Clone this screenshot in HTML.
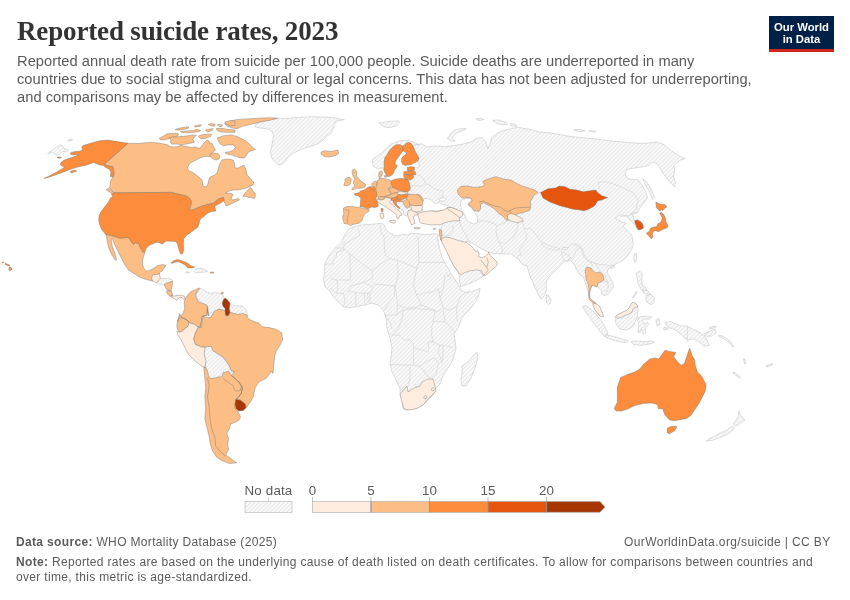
<!DOCTYPE html>
<html><head><meta charset="utf-8"><style>
*{margin:0;padding:0;box-sizing:border-box}
body{width:850px;height:600px;background:#fff;overflow:hidden;position:relative;font-family:"Liberation Sans",sans-serif;color:#5b5b5b}
.t{position:absolute;white-space:nowrap;will-change:transform}
#title{left:17px;top:16.2px;font-family:"Liberation Serif",serif;font-weight:bold;font-size:27px;line-height:30px;color:#333;letter-spacing:-0.15px}
#sub{left:16.5px;top:52.5px;font-size:14.7px;line-height:17.85px;color:#5b5b5b;letter-spacing:0.03px}
#logo{position:absolute;will-change:transform;left:769px;top:16px;width:65px;height:36px;background:#002147;border-bottom:3px solid #ce261e;color:#fff;font-weight:bold;font-size:11.3px;line-height:12px;text-align:center;padding-top:5px}
svg.map{position:absolute;left:0;top:0;will-change:transform}
.lg{position:absolute;font-size:12px;color:#5b5b5b}
#src{left:16.3px;top:534px;font-size:12px;line-height:16px;letter-spacing:0.34px}
#url{right:19px;top:534px;font-size:12px;line-height:16px;letter-spacing:0.38px}
#note{left:16.3px;top:554.5px;font-size:12px;line-height:15.3px;letter-spacing:0.32px}
b{font-weight:bold}
</style></head><body>
<div class="t" id="title">Reported suicide rates, 2023</div>
<div class="t" id="sub">Reported annual death rate from suicide per 100,000 people. Suicide deaths are underreported in many<br>countries due to social stigma and cultural or legal concerns. This data has not been adjusted for underreporting,<br>and comparisons may be affected by differences in measurement.</div>
<div id="logo">Our World<br>in Data</div>
<svg class="map" width="850" height="600" viewBox="0 0 850 600">
<defs><pattern id="hp" patternUnits="userSpaceOnUse" width="2.95" height="2.95" patternTransform="rotate(-45)"><rect x="-1" y="-1" width="5" height="5" fill="#fff"/><path d="M-1,1.475 H4" stroke="#e8e8e8" stroke-width="1.5"/></pattern></defs>
<path d="M255.0,124.3 L259.5,122.6 L266.2,120.4 L277.4,118.7 L288.5,118.1 L299.7,117.4 L310.9,116.7 L322.1,117.0 L333.2,117.6 L344.4,119.8 L336.6,120.9 L334.4,124.3 L333.2,128.8 L331.0,133.2 L326.5,136.6 L323.2,139.9 L318.7,143.3 L313.1,145.5 L305.3,147.8 L298.6,150.6 L293.0,153.4 L288.5,156.7 L285.2,161.2 L281.8,164.5 L277.4,164.5 L274.0,161.2 L271.2,156.7 L270.6,151.1 L271.8,145.5 L272.9,139.9 L273.4,134.4 L271.8,131.0 L267.3,128.8 L261.7,128.2 L257.2,127.6 L255.0,126.5Z" fill="url(#hp)" stroke="#bdbdbd" stroke-width="0.5"/>
<path d="M378.8,123.2 L387.6,121.5 L398.2,120.9 L400.0,122.3 L396.5,125.9 L389.4,127.7 L384.1,126.8Z" fill="url(#hp)" stroke="#bdbdbd" stroke-width="0.5"/>
<path d="M349.8,228.2 L358.2,225.4 L366.7,224.6 L375.2,223.9 L382.2,223.2 L384.4,225.4 L385.8,229.6 L389.3,232.4 L393.5,235.2 L397.8,235.9 L403.4,234.5 L409.1,235.2 L410.5,233.1 L417.5,233.8 L426.0,234.5 L434.5,233.8 L438.7,234.5 L437.5,238.0 L438.5,243.0 L440.0,250.0 L442.5,258.3 L445.0,263.3 L448.3,268.3 L450.8,273.3 L454.2,278.3 L457.5,283.3 L460.0,286.7 L460.0,289.2 L463.3,291.7 L467.5,292.5 L471.7,291.7 L475.8,290.0 L480.0,288.3 L479.2,293.3 L476.7,300.0 L473.3,305.0 L469.2,310.0 L465.0,314.2 L461.7,318.3 L460.5,322.0 L458.0,328.0 L454.0,334.0 L455.0,340.0 L456.0,348.0 L454.0,356.0 L452.0,362.0 L448.0,368.0 L444.0,374.0 L442.0,378.0 L440.0,384.0 L436.0,388.0 L434.0,394.0 L428.0,400.0 L422.0,406.0 L414.0,409.0 L406.0,410.0 L403.0,408.0 L402.0,400.0 L400.0,394.0 L400.0,388.0 L396.0,380.0 L392.0,372.0 L390.0,364.0 L391.0,356.0 L392.0,348.0 L390.0,338.0 L388.0,332.0 L386.7,326.7 L386.7,320.0 L385.0,315.0 L383.3,310.0 L378.3,305.0 L371.7,303.3 L365.0,305.0 L356.7,306.7 L350.0,307.5 L343.3,306.7 L338.3,301.7 L333.3,296.7 L330.0,291.7 L325.0,286.7 L324.2,283.3 L323.3,278.3 L325.0,273.3 L324.2,268.3 L325.0,263.3 L328.3,256.7 L331.7,251.7 L336.7,246.7 L341.7,241.7 L345.5,233.1Z" fill="url(#hp)" stroke="#bdbdbd" stroke-width="0.5"/>
<path d="M396.0,201.0 L404.0,200.5 L407.0,203.0 L408.0,208.0 L407.0,213.0 L405.5,215.5 L404.0,214.5 L403.8,211.8 L402.6,210.0 L400.5,208.7 L397.2,205.3 L395.5,202.3Z" fill="url(#hp)" stroke="#bdbdbd" stroke-width="0.5"/>
<path d="M462.0,366.0 L468.0,362.0 L473.0,356.0 L477.0,352.4 L478.0,358.0 L475.0,368.0 L471.0,378.0 L466.0,386.0 L462.0,386.0 L461.0,380.0 L462.0,372.0Z" fill="url(#hp)" stroke="#bdbdbd" stroke-width="0.5"/>
<path d="M420.7,143.5 L427.5,146.8 L436.9,145.9 L444.5,146.8 L453.9,145.5 L463.3,144.0 L470.8,142.1 L476.5,138.4 L482.1,137.4 L485.9,142.1 L487.8,148.7 L490.6,142.1 L491.5,137.4 L497.2,133.6 L502.8,130.8 L510.4,128.9 L517.9,127.1 L521.6,128.0 L532.9,129.9 L538.6,131.8 L548.0,132.7 L559.3,134.6 L570.6,136.5 L593.5,138.8 L617.1,141.6 L626.5,142.4 L640.6,143.5 L647.6,143.1 L657.1,141.9 L664.1,144.7 L671.2,150.6 L678.2,155.3 L685.3,158.8 L680.6,160.0 L677.1,162.4 L673.5,165.9 L674.7,170.6 L673.5,176.5 L675.4,182.4 L674.7,187.1 L671.2,183.5 L666.5,177.6 L662.9,172.9 L659.4,167.1 L657.1,163.5 L652.4,162.4 L647.6,165.9 L640.6,167.1 L633.5,168.2 L626.5,169.4 L625.3,174.1 L627.6,178.8 L638.2,180.0 L641.8,184.7 L645.3,190.6 L647.6,197.6 L644.1,202.4 L640.6,207.1 L637.1,212.9 L630.0,213.3 L633.3,215.8 L634.2,220.8 L638.3,219.7 L641.7,222.5 L643.3,226.7 L641.7,229.2 L638.3,230.0 L635.8,226.7 L631.7,221.7 L629.2,219.2 L626.7,215.8 L620.0,215.0 L615.0,218.3 L620.0,220.8 L625.8,223.3 L623.3,226.7 L626.7,230.0 L631.7,235.0 L633.3,243.3 L631.7,250.0 L626.7,256.7 L622.9,260.6 L615.9,264.1 L612.4,266.8 L607.9,269.4 L607.1,272.9 L610.6,278.2 L613.2,283.5 L613.2,287.9 L609.7,292.4 L605.3,295.9 L601.8,294.1 L600.9,289.7 L599.1,287.9 L596.0,285.0 L592.0,286.0 L589.0,292.0 L588.8,295.4 L587.2,288.0 L584.7,281.4 L583.1,276.5 L579.8,274.8 L576.5,269.9 L574.8,264.9 L571.5,261.6 L570.0,260.0 L566.0,261.0 L563.0,263.0 L559.0,267.0 L554.0,272.0 L550.0,276.0 L547.0,280.0 L546.0,284.0 L546.5,290.0 L545.0,294.5 L543.0,297.0 L541.0,299.3 L538.0,294.0 L535.0,287.5 L532.0,280.0 L531.0,279.0 L529.0,273.0 L528.0,269.0 L527.0,265.5 L523.0,265.0 L520.0,261.5 L519.0,259.0 L515.0,257.0 L512.0,254.0 L506.0,254.0 L500.0,254.0 L498.3,253.7 L493.3,253.3 L490.0,252.5 L485.5,250.8 L481.0,248.5 L476.0,245.3 L471.0,242.3 L468.0,241.5 L466.7,241.0 L465.0,250.0 L478.0,268.0 L483.3,275.8 L480.8,277.5 L475.8,280.8 L470.8,283.3 L465.0,285.0 L460.8,286.7 L459.5,282.0 L459.6,278.0 L458.0,272.0 L454.0,266.0 L449.0,256.0 L445.0,247.0 L442.0,241.0 L441.0,238.0 L440.3,233.0 L440.8,229.0 L441.7,226.0 L442.5,225.0 L443.3,223.3 L436.7,218.3 L424.0,213.0 L422.5,199.5 L418.0,196.0 L412.0,196.0 L407.5,194.8 L408.0,192.0 L409.5,185.0 L410.0,179.0 L413.0,177.0 L413.0,167.5 L416.0,167.3 L418.0,167.0 L419.5,166.2 L419.0,164.0 L417.5,161.3 L419.0,159.0 L417.5,155.3 L416.0,153.0 L414.5,150.0 L413.0,146.3 L414.5,144.8 L417.5,144.8 L419.0,144.8Z" fill="url(#hp)" stroke="#bdbdbd" stroke-width="0.5"/>
<path d="M372.5,162.0 L372.1,159.8 L374.8,157.5 L378.5,155.3 L382.3,152.3 L385.3,149.3 L388.3,146.3 L391.3,144.0 L395.0,142.5 L399.5,141.0 L404.0,140.3 L408.5,140.3 L413.0,141.8 L416.0,143.3 L419.0,144.8 L417.5,144.8 L414.5,144.8 L413.0,146.3 L410.8,143.3 L408.5,142.5 L406.3,143.3 L404.0,145.5 L402.5,146.3 L400.3,144.8 L396.5,144.8 L392.8,147.0 L389.8,150.0 L386.8,155.3 L384.9,157.5 L384.1,163.5 L384.5,166.5 L382.3,168.0 L377.0,168.4 L373.3,166.5Z" fill="url(#hp)" stroke="#bdbdbd" stroke-width="0.5"/>
<path d="M738.7,411.0 L740.8,415.3 L743.0,418.6 L745.2,419.7 L740.8,422.9 L735.4,426.2 L733.2,424.0 L736.5,419.7 L738.7,415.3Z" fill="url(#hp)" stroke="#bdbdbd" stroke-width="0.5"/>
<path d="M732.2,426.2 L725.7,430.5 L717.0,434.8 L708.3,439.2 L706.2,441.3 L712.7,440.2 L721.3,437.0 L730.0,432.7 L734.3,428.3Z" fill="url(#hp)" stroke="#bdbdbd" stroke-width="0.5"/>
<path d="M634.2,254.2 L636.3,253.3 L636.7,260.0 L635.0,262.5 L633.7,258.3Z" fill="url(#hp)" stroke="#bdbdbd" stroke-width="0.5"/>
<path d="M642.9,178.8 L646.5,181.6 L651.2,189.4 L654.7,197.6 L652.8,199.5 L648.8,190.6 L644.8,183.5Z" fill="url(#hp)" stroke="#bdbdbd" stroke-width="0.5"/>
<path d="M198.9,288.0 L202.5,289.1 L206.7,291.9 L210.9,293.3 L215.9,292.6 L219.4,293.3 L222.2,294.7 L224.3,298.2 L226.5,298.9 L230.6,304.7 L235.9,305.6 L242.9,306.5 L246.5,310.0 L247.3,315.3 L237.7,314.4 L230.6,312.6 L225.3,310.9 L219.1,309.1 L214.7,310.9 L211.2,317.1 L208.5,317.9 L207.7,315.3 L207.7,308.2 L206.8,305.6 L202.3,302.9 L197.1,299.4 L196.2,294.1 L197.9,290.6Z" fill="url(#hp)" stroke="#bdbdbd" stroke-width="0.5"/>
<path d="M205.0,347.1 L211.2,346.2 L212.9,350.6 L218.2,354.1 L223.5,357.6 L226.2,361.2 L229.7,366.5 L230.6,370.0 L234.1,371.8 L230.6,373.5 L223.5,373.5 L220.0,376.2 L214.7,378.8 L207.7,377.9 L205.9,372.6 L205.0,367.4 L205.9,361.2 L204.1,354.1Z" fill="url(#hp)" stroke="#bdbdbd" stroke-width="0.5"/>
<path d="M582.4,306.5 L585.9,305.6 L592.9,310.9 L598.2,317.1 L603.5,324.1 L607.1,331.2 L607.9,336.5 L604.4,336.5 L600.0,331.2 L594.7,324.1 L589.4,317.1 L585.0,310.9Z" fill="url(#hp)" stroke="#bdbdbd" stroke-width="0.5"/>
<path d="M637.9,317.9 L640.6,316.7 L647.6,316.2 L652.1,317.1 L650.3,318.8 L644.1,319.2 L642.4,320.6 L644.1,324.1 L647.6,322.4 L648.5,324.1 L645.0,327.6 L645.9,332.9 L643.2,333.8 L641.5,329.4 L639.7,332.9 L637.9,332.1 L638.8,325.9 L637.9,320.6Z" fill="url(#hp)" stroke="#bdbdbd" stroke-width="0.5"/>
<path d="M605.3,334.7 L614.1,336.5 L622.9,339.1 L628.2,340.9 L626.5,342.6 L619.4,341.8 L612.4,340.0 L606.2,337.4Z" fill="url(#hp)" stroke="#bdbdbd" stroke-width="0.5"/>
<path d="M630.9,341.8 L637.1,340.9 L644.1,341.8 L652.9,340.9 L654.7,342.6 L647.6,344.4 L640.6,345.3 L633.5,344.4Z" fill="url(#hp)" stroke="#bdbdbd" stroke-width="0.5"/>
<path d="M665.3,322.4 L670.6,321.5 L675.9,324.1 L681.2,325.9 L686.5,325.9 L693.5,329.4 L700.6,332.9 L705.9,338.2 L709.4,345.3 L704.1,346.2 L698.8,341.8 L693.5,339.1 L688.2,340.0 L684.7,338.2 L679.4,332.9 L674.1,329.4 L668.8,327.6 L666.2,325.0Z" fill="url(#hp)" stroke="#bdbdbd" stroke-width="0.5"/>
<path d="M636.2,272.9 L639.7,271.2 L642.4,273.8 L641.5,280.0 L642.4,285.3 L645.9,287.9 L647.6,292.4 L645.0,293.2 L640.6,288.8 L637.9,283.5 L637.1,278.2Z" fill="url(#hp)" stroke="#bdbdbd" stroke-width="0.5"/>
<path d="M642.4,289.7 L647.6,290.6 L650.3,294.1 L647.6,295.0 L644.1,293.2Z" fill="url(#hp)" stroke="#bdbdbd" stroke-width="0.5"/>
<path d="M645.9,295.9 L651.2,294.5 L654.4,297.3 L653.8,302.9 L651.2,304.7 L647.6,302.9 L645.9,299.4Z" fill="url(#hp)" stroke="#bdbdbd" stroke-width="0.5"/>
<path d="M636.2,291.5 L637.1,292.4 L633.5,297.6 L632.1,298.0Z" fill="url(#hp)" stroke="#bdbdbd" stroke-width="0.5"/>
<path d="M610.6,265.3 L613.5,265.0 L614.1,267.5 L611.5,268.5Z" fill="url(#hp)" stroke="#bdbdbd" stroke-width="0.5"/>
<path d="M656.0,320.0 L659.0,318.5 L660.0,324.0 L657.0,326.0Z" fill="url(#hp)" stroke="#bdbdbd" stroke-width="0.5"/>
<path d="M664.0,327.5 L668.0,328.0 L667.0,330.0 L663.5,329.5Z" fill="url(#hp)" stroke="#bdbdbd" stroke-width="0.5"/>
<path d="M196.1,268.8 L199.9,268.4 L203.7,268.8 L206.5,270.2 L207.4,271.6 L203.7,272.1 L199.9,272.6 L195.2,272.6 L194.2,271.6Z" fill="url(#hp)" stroke="#bdbdbd" stroke-width="0.5"/>
<path d="M185.3,272.1 L187.7,271.8 L189.5,272.6 L187.2,273.1Z" fill="url(#hp)" stroke="#bdbdbd" stroke-width="0.5"/>
<path d="M158.9,277.3 L159.4,278.2 L164.1,278.7 L168.8,278.2 L172.6,280.1 L170.7,282.0 L166.0,282.9 L162.2,284.8 L158.5,283.9 L157.1,282.5Z" fill="url(#hp)" stroke="#bdbdbd" stroke-width="0.5"/>
<path d="M47.5,153.5 L52.5,150.0 L56.5,147.0 L60.5,144.5 L63.0,146.5 L64.0,149.0 L67.0,149.0 L68.2,150.5 L66.0,151.8 L63.0,151.5 L60.0,153.5 L57.5,155.5 L55.0,154.5 L52.5,152.0 L48.0,154.0Z" fill="url(#hp)" stroke="#bdbdbd" stroke-width="0.5"/>
<path d="M67.5,140.5 L70.0,139.0 L72.8,139.5 L72.0,140.5 L69.0,140.8Z" fill="url(#hp)" stroke="#bdbdbd" stroke-width="0.5"/>
<path d="M703.8,333.8 L710.0,331.2 L715.0,328.8 L716.2,332.5 L711.2,336.2 L705.0,336.2Z" fill="url(#hp)" stroke="#bdbdbd" stroke-width="0.5"/>
<path d="M709.0,327.8 L712.0,326.8 L715.5,325.8 L716.0,327.0 L712.5,328.3 L709.5,328.8Z" fill="url(#hp)" stroke="#bdbdbd" stroke-width="0.5"/>
<path d="M718.8,335.0 L722.0,336.0 L725.0,337.5 L728.0,339.5 L730.0,341.2 L733.8,346.2 L732.5,346.8 L728.5,342.0 L724.0,339.0 L719.0,336.2Z" fill="url(#hp)" stroke="#bdbdbd" stroke-width="0.5"/>
<path d="M743.5,358.5 L744.8,359.0 L745.6,363.8 L744.5,364.0Z" fill="url(#hp)" stroke="#bdbdbd" stroke-width="0.5"/>
<path d="M733.5,372.0 L736.0,373.5 L740.5,377.2 L739.5,378.2 L735.5,375.0 L733.0,373.0Z" fill="url(#hp)" stroke="#bdbdbd" stroke-width="0.5"/>
<path d="M766.0,365.8 L769.0,364.8 L772.8,363.5 L772.5,364.8 L768.5,366.5 L766.2,366.8Z" fill="url(#hp)" stroke="#bdbdbd" stroke-width="0.5"/>
<path d="M393.0,199.0 L397.0,196.5 L403.0,195.5 L408.0,193.5 L412.0,195.5 L418.0,195.5 L422.5,199.5 L422.5,205.0 L420.0,211.0 L416.0,213.0 L410.0,214.0 L406.0,216.0 L404.0,214.5 L403.8,211.8 L402.6,210.0 L400.5,208.7 L397.2,205.3 L395.5,202.3 L393.5,201.0Z" fill="url(#hp)" stroke="#bdbdbd" stroke-width="0.5"/>
<path d="M402.9,178.3 L405.4,178.5 L407.5,179.6 L406.7,180.4 L404.2,180.4Z" fill="url(#hp)" stroke="#bdbdbd" stroke-width="0.5"/>
<path d="M447.5,138.4 L451.3,132.7 L455.0,130.2 L458.8,128.9 L466.4,128.6 L462.6,130.8 L455.1,133.6 L452.2,138.4 L455.1,141.2 L451.3,141.2Z" fill="url(#hp)" stroke="#bdbdbd" stroke-width="0.5"/>
<path d="M492.7,120.5 L498.4,119.9 L505.9,122.4 L507.8,124.2 L502.1,124.8 L496.5,123.3Z" fill="url(#hp)" stroke="#bdbdbd" stroke-width="0.5"/>
<path d="M509.6,123.7 L515.3,124.2 L517.2,126.1 L511.5,126.1Z" fill="url(#hp)" stroke="#bdbdbd" stroke-width="0.5"/>
<path d="M573.6,129.9 L579.3,129.3 L585.0,130.8 L579.3,131.8Z" fill="url(#hp)" stroke="#bdbdbd" stroke-width="0.5"/>
<path d="M588.7,130.8 L596.2,131.2 L594.4,132.3Z" fill="url(#hp)" stroke="#bdbdbd" stroke-width="0.5"/>
<path d="M476.0,119.0 L481.0,118.2 L484.0,119.5 L479.0,120.5Z" fill="url(#hp)" stroke="#bdbdbd" stroke-width="0.5"/>
<path d="M615.6,317.0 L619.0,315.0 L623.0,313.0 L627.0,311.0 L629.0,309.0 L631.0,305.0 L633.0,302.8 L636.0,304.2 L638.0,307.0 L638.0,312.0 L637.0,318.0 L634.0,324.0 L631.0,328.0 L626.0,330.0 L620.0,329.0 L616.0,324.0 L615.0,318.5Z" fill="url(#hp)" stroke="#bdbdbd" stroke-width="0.5"/>
<path d="M546.5,294.5 L548.0,295.0 L551.0,299.5 L550.5,303.0 L548.5,304.5 L546.5,303.0 L546.0,299.0Z" fill="url(#hp)" stroke="#bdbdbd" stroke-width="0.5"/>
<path d="M422.5,200.0 L422.5,203.3 L421.7,206.7 L422.5,210.0 L420.8,211.7 L424.2,212.5 L428.3,211.7 L432.5,210.8 L438.3,210.8 L445.0,210.0 L449.2,209.2 L451.7,208.3 L450.0,206.7 L448.3,205.8 L445.0,205.0 L441.7,204.2 L440.0,202.5 L440.0,201.7 L437.5,203.0 L435.8,203.8 L433.5,202.5 L432.0,200.8 L430.8,199.6 L428.3,198.8 L425.0,198.3 L423.3,199.2Z" fill="#fff" stroke="#bdbdbd" stroke-width="0.5"/>
<path d="M438.5,199.5 L441.0,198.0 L444.0,197.5 L446.5,199.0 L445.0,200.8 L441.5,201.2Z" fill="#fff" stroke="#bdbdbd" stroke-width="0.5"/>
<path d="M462.5,199.5 L467.0,198.5 L470.0,198.1 L471.9,199.6 L470.8,201.5 L468.5,203.0 L467.8,204.5 L470.0,206.8 L473.0,209.8 L474.5,212.0 L476.0,215.0 L477.5,218.0 L477.9,221.0 L476.8,223.3 L473.8,224.0 L470.0,222.5 L467.8,220.3 L465.5,218.0 L464.8,215.0 L463.3,212.8 L461.8,209.8 L461.0,206.8 L460.3,203.8 L461.0,201.5Z" fill="#fff" stroke="#bdbdbd" stroke-width="0.5"/>
<path d="M687.4,325.9 L687.4,342.6" fill="none" stroke="#c8c8c8" stroke-width="0.45"/>
<path d="M358.0,228.0 L360.0,235.0 L355.0,238.0 L350.0,241.0 L344.0,244.0 L343.5,248.0" fill="none" stroke="#c8c8c8" stroke-width="0.45"/>
<path d="M334.0,248.0 L343.5,248.0" fill="none" stroke="#c8c8c8" stroke-width="0.45"/>
<path d="M343.5,248.0 L344.0,250.0 L337.0,252.0 L336.0,257.0 L333.0,260.0 L333.0,264.0 L325.0,264.0" fill="none" stroke="#c8c8c8" stroke-width="0.45"/>
<path d="M344.0,249.0 L350.0,254.0 L360.0,262.0 L372.0,271.0" fill="none" stroke="#c8c8c8" stroke-width="0.45"/>
<path d="M350.0,254.0 L350.3,280.0 L336.7,280.0 L330.0,278.3" fill="none" stroke="#c8c8c8" stroke-width="0.45"/>
<path d="M380.0,225.0 L381.0,232.0 L384.0,236.0" fill="none" stroke="#c8c8c8" stroke-width="0.45"/>
<path d="M384.0,236.0 L384.3,246.7 L385.4,255.3 L389.8,258.6" fill="none" stroke="#c8c8c8" stroke-width="0.45"/>
<path d="M372.0,271.0 L380.0,264.0 L389.8,258.6 L397.3,260.2 L407.1,264.0 L416.8,268.3" fill="none" stroke="#c8c8c8" stroke-width="0.45"/>
<path d="M417.9,236.9 L418.5,246.7 L419.0,262.4 L445.0,262.4" fill="none" stroke="#c8c8c8" stroke-width="0.45"/>
<path d="M419.0,262.4 L416.8,268.3 L413.3,285.0 L416.7,295.0 L421.7,305.0" fill="none" stroke="#c8c8c8" stroke-width="0.45"/>
<path d="M372.0,271.0 L372.5,278.3 L365.0,281.7 L363.3,282.5 L351.7,285.8 L348.3,290.8" fill="none" stroke="#c8c8c8" stroke-width="0.45"/>
<path d="M397.3,260.2 L398.3,275.0 L395.0,285.8 L385.0,285.0 L375.0,284.2 L372.5,286.7 L371.7,291.7" fill="none" stroke="#c8c8c8" stroke-width="0.45"/>
<path d="M372.5,286.7 L363.3,282.5" fill="none" stroke="#c8c8c8" stroke-width="0.45"/>
<path d="M348.3,290.8 L355.0,292.5 L363.3,293.3 L370.0,293.3 L371.7,291.7" fill="none" stroke="#c8c8c8" stroke-width="0.45"/>
<path d="M330.0,288.3 L336.7,293.3 L343.3,293.3 L345.0,300.0 L343.3,306.7" fill="none" stroke="#c8c8c8" stroke-width="0.45"/>
<path d="M336.7,280.0 L338.0,286.0 L336.7,293.3" fill="none" stroke="#c8c8c8" stroke-width="0.45"/>
<path d="M355.8,292.5 L355.8,305.0" fill="none" stroke="#c8c8c8" stroke-width="0.45"/>
<path d="M364.2,293.3 L365.0,303.3" fill="none" stroke="#c8c8c8" stroke-width="0.45"/>
<path d="M367.5,293.3 L368.3,303.3" fill="none" stroke="#c8c8c8" stroke-width="0.45"/>
<path d="M370.0,293.3 L370.0,303.3" fill="none" stroke="#c8c8c8" stroke-width="0.45"/>
<path d="M395.0,285.8 L394.2,296.7 L388.3,303.3 L384.2,310.0" fill="none" stroke="#c8c8c8" stroke-width="0.45"/>
<path d="M395.0,285.8 L396.7,296.7 L397.5,305.0 L406.7,308.3 L416.7,306.7 L421.7,305.0" fill="none" stroke="#c8c8c8" stroke-width="0.45"/>
<path d="M397.5,305.0 L396.7,315.0 L385.0,315.0" fill="none" stroke="#c8c8c8" stroke-width="0.45"/>
<path d="M396.7,315.0 L403.3,310.0 L416.7,308.3 L430.0,310.0 L435.0,310.0" fill="none" stroke="#c8c8c8" stroke-width="0.45"/>
<path d="M421.7,305.0 L433.3,310.0" fill="none" stroke="#c8c8c8" stroke-width="0.45"/>
<path d="M416.7,295.0 L423.3,293.3 L433.3,291.7 L438.3,288.3 L440.0,298.3" fill="none" stroke="#c8c8c8" stroke-width="0.45"/>
<path d="M445.0,275.0 L443.3,288.3 L440.0,298.3" fill="none" stroke="#c8c8c8" stroke-width="0.45"/>
<path d="M446.0,272.0 L448.5,277.0 L450.8,273.3" fill="none" stroke="#c8c8c8" stroke-width="0.45"/>
<path d="M440.0,298.3 L443.3,308.3 L436.7,311.7" fill="none" stroke="#c8c8c8" stroke-width="0.45"/>
<path d="M433.3,310.0 L436.7,311.7" fill="none" stroke="#c8c8c8" stroke-width="0.45"/>
<path d="M443.3,308.3 L450.0,310.0 L456.7,306.7 L460.0,296.7 L470.0,290.0" fill="none" stroke="#c8c8c8" stroke-width="0.45"/>
<path d="M443.3,310.0 L445.0,321.7 L455.0,331.7" fill="none" stroke="#c8c8c8" stroke-width="0.45"/>
<path d="M456.7,306.7 L456.7,318.3 L458.0,322.0" fill="none" stroke="#c8c8c8" stroke-width="0.45"/>
<path d="M435.0,310.0 L433.3,321.7 L431.7,326.7 L431.7,335.0 L433.3,343.3" fill="none" stroke="#c8c8c8" stroke-width="0.45"/>
<path d="M433.3,321.7 L445.0,321.7" fill="none" stroke="#c8c8c8" stroke-width="0.45"/>
<path d="M403.3,310.0 L401.7,320.0 L398.3,328.3 L393.3,333.3" fill="none" stroke="#c8c8c8" stroke-width="0.45"/>
<path d="M385.0,315.0 L390.0,321.7 L391.7,328.3" fill="none" stroke="#c8c8c8" stroke-width="0.45"/>
<path d="M390.5,334.7 L399.8,335.3 L404.5,340.5 L409.2,339.3 L412.7,342.8 L413.8,347.5 L417.3,348.7 L422.0,349.8 L427.8,352.2 L429.0,347.5 L427.8,342.8 L431.3,341.1 L433.7,341.7" fill="none" stroke="#c8c8c8" stroke-width="0.45"/>
<path d="M433.7,341.7 L439.5,345.2 L443.0,345.2 L452.3,347.5" fill="none" stroke="#c8c8c8" stroke-width="0.45"/>
<path d="M413.8,347.5 L413.3,353.3 L413.8,365.0" fill="none" stroke="#c8c8c8" stroke-width="0.45"/>
<path d="M389.9,364.4 L403.3,365.0 L413.8,365.0 L418.5,366.2 L422.0,365.0 L426.7,361.5 L431.3,359.2 L434.8,358.0" fill="none" stroke="#c8c8c8" stroke-width="0.45"/>
<path d="M418.5,366.2 L423.2,369.7 L426.7,375.5 L430.2,377.8" fill="none" stroke="#c8c8c8" stroke-width="0.45"/>
<path d="M434.8,358.0 L438.3,362.7 L437.2,368.5 L436.0,374.3 L431.3,377.8" fill="none" stroke="#c8c8c8" stroke-width="0.45"/>
<path d="M410.3,367.3 L409.8,379.0 L408.0,386.0" fill="none" stroke="#c8c8c8" stroke-width="0.45"/>
<path d="M439.5,345.2 L438.3,353.3 L440.7,358.0 L441.8,362.7 L443.0,356.8 L443.0,345.2" fill="none" stroke="#c8c8c8" stroke-width="0.45"/>
<path d="M413.0,174.6 L415.8,174.6 L420.0,175.4 L422.5,177.5 L425.0,181.7 L425.8,183.8" fill="none" stroke="#c8c8c8" stroke-width="0.45"/>
<path d="M410.8,185.0 L415.8,185.8 L422.5,186.2 L425.0,184.2 L425.8,183.8" fill="none" stroke="#c8c8c8" stroke-width="0.45"/>
<path d="M425.8,183.8 L430.0,185.0 L433.3,188.3 L438.3,190.0 L442.5,190.8 L443.3,194.2 L442.5,196.7 L440.0,198.3" fill="none" stroke="#c8c8c8" stroke-width="0.45"/>
<path d="M453.0,224.8 L453.0,230.6 L448.8,235.4" fill="none" stroke="#c8c8c8" stroke-width="0.45"/>
<path d="M441.4,235.9 L448.8,235.4 L446.6,237.5 L442.4,241.8" fill="none" stroke="#c8c8c8" stroke-width="0.45"/>
<path d="M459.4,220.6 L460.9,225.9 L463.6,231.2 L465.7,234.4 L467.8,238.6 L469.9,242.8" fill="none" stroke="#c8c8c8" stroke-width="0.45"/>
<path d="M475.2,222.7 L481.6,220.6 L487.9,221.6 L494.3,223.8 L496.4,225.9" fill="none" stroke="#c8c8c8" stroke-width="0.45"/>
<path d="M496.4,225.9 L495.9,231.2 L497.5,237.5 L498.5,241.8 L500.6,244.9 L502.8,250.2 L501.7,253.4" fill="none" stroke="#c8c8c8" stroke-width="0.45"/>
<path d="M498.5,241.8 L504.9,243.9 L509.3,239.9 L513.7,236.7 L515.8,232.3 L518.0,226.9 L516.9,223.7 L519.7,222.7" fill="none" stroke="#c8c8c8" stroke-width="0.45"/>
<path d="M496.4,225.9 L499.6,224.8 L503.8,222.7 L508.1,220.6 L511.2,220.1 L515.5,220.6" fill="none" stroke="#c8c8c8" stroke-width="0.45"/>
<path d="M524.5,230.2 L526.7,234.5 L525.6,239.9 L522.3,245.3 L519.1,249.7 L521.2,255.1 L516.9,256.2" fill="none" stroke="#c8c8c8" stroke-width="0.45"/>
<path d="M522.3,222.6 L524.5,229.1 L529.9,228.0 L533.2,231.3 L536.4,235.6 L539.7,239.9 L542.9,242.1" fill="none" stroke="#c8c8c8" stroke-width="0.45"/>
<path d="M541.8,242.1 L548.3,245.3 L554.8,247.5 L560.2,248.6 L559.2,250.2 L553.8,249.7 L548.3,248.6 L542.9,245.9 L541.8,243.2" fill="none" stroke="#c8c8c8" stroke-width="0.45"/>
<path d="M562.4,247.5 L567.8,247.5 L567.3,249.7 L562.4,249.7 L562.4,247.5" fill="none" stroke="#c8c8c8" stroke-width="0.45"/>
<path d="M567.8,247.5 L572.2,244.2 L576.5,243.7 L580.8,246.4 L583.0,250.7" fill="none" stroke="#c8c8c8" stroke-width="0.45"/>
<path d="M561.3,251.8 L562.4,256.2 L564.6,260.5 L567.8,261.6 L570.0,258.3 L568.9,255.1 L565.7,254.0 L561.3,251.8" fill="none" stroke="#c8c8c8" stroke-width="0.45"/>
<path d="M570.0,258.3 L572.2,258.3 L574.3,255.1 L576.5,249.7 L580.8,247.5" fill="none" stroke="#c8c8c8" stroke-width="0.45"/>
<path d="M583.0,250.7 L585.2,256.2 L588.4,260.5 L591.7,262.7" fill="none" stroke="#c8c8c8" stroke-width="0.45"/>
<path d="M599.4,189.4 L598.2,182.4 L605.3,181.6 L612.4,183.5 L624.1,188.2 L633.5,192.9 L638.2,200.0 L635.9,209.4 L632.4,214.1" fill="none" stroke="#c8c8c8" stroke-width="0.45"/>
<path d="M620.0,216.5 L626.0,216.2 L630.5,215.0 L636.5,213.0" fill="none" stroke="#c8c8c8" stroke-width="0.45"/>
<path d="M575.0,245.0 L581.0,248.0 L584.0,257.0 L588.5,261.5 L594.5,263.0 L599.0,264.5 L605.0,264.5 L609.5,266.0" fill="none" stroke="#c8c8c8" stroke-width="0.45"/>
<path d="M591.1,262.4 L592.9,267.0" fill="none" stroke="#c8c8c8" stroke-width="0.45"/>
<path d="M595.7,263.3 L598.4,268.9 L602.1,272.5 L604.9,275.3 L606.7,279.9 L608.5,283.5" fill="none" stroke="#c8c8c8" stroke-width="0.45"/>
<path d="M603.9,280.8 L607.6,282.6 L608.5,287.2 L606.7,290.9 L603.9,290.9" fill="none" stroke="#c8c8c8" stroke-width="0.45"/>
<path d="M535.5,190.5 L538.0,192.0 L540.5,192.6" fill="none" stroke="#c8c8c8" stroke-width="0.45"/>
<path d="M127.9,143.2 L104.1,164.4 L107.8,166.0 L112.5,166.5 L113.6,170.2 L114.1,174.5 L113.1,177.1 L110.5,181.0 L110.1,185.0 L109.5,187.5 L111.5,189.5 L113.3,192.3 L114.2,192.8 L171.6,192.4 L174.1,193.2 L180.7,194.6 L185.6,195.7 L189.7,198.2 L191.3,201.5 L190.5,206.4 L188.9,210.5 L193.8,209.7 L200.4,206.4 L207.0,204.8 L213.6,203.1 L218.5,199.0 L223.5,197.3 L224.0,200.0 L224.0,202.0 L225.0,203.0 L226.0,206.0 L230.0,204.5 L235.0,202.0 L239.5,200.0 L238.5,198.5 L236.0,199.0 L233.0,200.0 L231.0,199.0 L232.0,196.5 L233.0,194.5 L230.0,193.2 L225.0,193.5 L229.0,191.0 L233.0,190.0 L238.0,190.0 L242.0,189.0 L246.0,188.0 L250.0,186.5 L253.0,185.0 L254.0,182.0 L253.0,182.0 L250.0,178.0 L247.0,175.0 L246.0,170.0 L244.0,165.0 L240.0,167.0 L238.0,168.0 L235.0,168.0 L234.5,164.0 L233.0,160.0 L228.0,159.0 L224.0,159.5 L222.0,160.0 L220.0,163.0 L218.5,168.0 L217.5,172.0 L215.0,175.0 L210.0,177.0 L209.0,179.0 L208.0,184.0 L206.0,187.0 L203.0,186.0 L202.0,180.0 L199.0,177.0 L195.0,174.0 L192.0,172.0 L188.5,171.0 L187.5,167.5 L190.0,163.0 L194.0,161.0 L200.0,158.0 L204.0,156.6 L207.0,156.2 L209.5,156.8 L210.5,155.0 L212.0,153.0 L214.5,151.0 L215.5,150.0 L214.0,147.5 L212.0,143.0 L210.0,144.0 L209.0,141.0 L207.0,140.0 L204.0,143.0 L201.5,146.5 L199.0,148.5 L195.0,146.8 L191.0,147.5 L186.0,146.5 L180.0,145.0 L179.5,146.5 L173.8,146.9 L169.1,146.5 L168.2,145.1 L164.4,144.1 L159.7,143.2 L155.0,142.7 L148.9,142.4 L137.6,143.5Z" fill="#fdbe85" stroke="#707070" stroke-width="0.45" stroke-opacity="0.9"/>
<path d="M243.0,196.2 L245.0,193.0 L248.0,190.0 L250.0,187.5 L252.0,189.0 L253.0,191.5 L255.0,193.0 L255.5,196.0 L254.5,198.5 L252.0,198.0 L250.0,197.0 L249.0,198.0 L247.0,196.5Z" fill="#fdbe85" stroke="#707070" stroke-width="0.45" stroke-opacity="0.9"/>
<path d="M9.0,267.5 L10.8,267.2 L12.0,268.8 L11.5,270.0 L9.5,270.8 L8.9,269.5Z" fill="#fd8d3c" stroke="#707070" stroke-width="0.45" stroke-opacity="0.9"/>
<path d="M2.0,262.2 L3.8,262.0 L3.5,262.9 L2.2,262.9Z" fill="#fd8d3c" stroke="#707070" stroke-width="0.45" stroke-opacity="0.9"/>
<path d="M5.0,263.2 L6.5,263.8 L9.5,265.0 L9.8,266.2 L8.0,265.8 L5.5,264.8Z" fill="#fd8d3c" stroke="#707070" stroke-width="0.45" stroke-opacity="0.9"/>
<path d="M105.7,234.4 L109.8,235.2 L114.8,236.4 L120.0,238.3 L124.0,237.7 L127.3,237.3 L130.0,239.0 L131.3,241.7 L133.3,244.3 L135.3,242.7 L138.0,243.0 L139.3,245.0 L140.7,248.3 L142.7,251.7 L144.7,252.3 L144.0,255.0 L143.0,258.3 L142.3,262.3 L142.7,265.0 L143.7,267.9 L146.1,271.2 L149.4,270.4 L154.3,267.9 L157.7,265.5 L162.6,264.6 L165.9,265.5 L162.6,270.4 L159.3,272.9 L158.5,276.2 L154.3,277.8 L152.7,281.1 L146.1,279.5 L139.5,277.0 L132.9,272.9 L128.0,269.6 L124.7,264.6 L121.4,258.1 L118.1,251.5 L114.8,244.9 L112.3,238.3 L111.2,239.9 L112.3,246.5 L114.8,253.1 L116.5,259.7 L115.7,260.5 L112.3,255.6 L109.1,249.0 L107.4,242.4 L106.6,236.7Z" fill="#fdbe85" stroke="#707070" stroke-width="0.45" stroke-opacity="0.9"/>
<path d="M181.2,317.1 L186.5,319.7 L189.1,322.4 L188.2,325.9 L182.1,331.2 L179.4,332.1 L177.7,330.3 L176.8,325.9 L177.7,319.7Z" fill="#fdbe85" stroke="#707070" stroke-width="0.45" stroke-opacity="0.9"/>
<path d="M203.2,316.2 L208.5,317.9 L211.2,317.1 L214.7,310.9 L219.1,309.1 L225.3,310.9 L226.2,316.2 L228.8,315.3 L230.6,312.6 L237.7,314.4 L242.9,313.5 L247.3,315.3 L247.3,317.9 L251.8,320.6 L258.8,323.2 L262.4,326.8 L269.4,327.6 L276.5,329.4 L281.8,332.9 L282.6,340.0 L280.0,345.3 L276.5,350.6 L274.7,355.9 L273.8,364.7 L272.9,373.5 L271.7,371.0 L266.2,378.3 L258.8,382.0 L255.2,387.5 L253.3,396.7 L249.7,403.1 L246.0,407.7 L245.1,404.0 L240.5,400.3 L235.9,399.4 L238.7,396.7 L241.4,393.0 L242.3,387.5 L238.7,382.0 L235.0,378.3 L231.3,375.6 L234.1,371.8 L230.6,370.0 L229.7,366.5 L226.2,361.2 L223.5,357.6 L218.2,354.1 L212.9,350.6 L211.2,346.2 L205.0,347.1 L201.5,347.1 L195.3,344.4 L193.5,339.1 L195.3,332.9 L197.9,327.6 L201.5,326.8 L202.3,320.6Z" fill="#fdbe85" stroke="#707070" stroke-width="0.45" stroke-opacity="0.9"/>
<path d="M176.8,331.2 L179.4,332.1 L182.1,331.2 L188.2,325.9 L189.1,322.4 L194.4,324.1 L197.9,326.8 L201.5,326.8 L197.9,327.6 L195.3,332.9 L193.5,339.1 L195.3,344.4 L201.5,347.1 L205.0,347.1 L204.1,354.1 L205.9,361.2 L205.0,367.4 L202.3,366.5 L195.3,361.2 L188.2,354.1 L184.7,347.1 L181.2,340.0 L177.7,334.7Z" fill="#feedde" stroke="#707070" stroke-width="0.45" stroke-opacity="0.9"/>
<path d="M203.8,367.3 L204.8,378.3 L205.7,387.5 L204.8,396.7 L205.7,407.7 L204.8,418.7 L207.5,429.7 L209.3,437.0 L210.2,444.3 L213.0,451.7 L216.7,457.2 L222.2,460.8 L229.5,463.6 L236.8,462.7 L233.2,460.5 L227.7,456.2 L225.8,454.4 L228.6,449.8 L227.7,444.3 L228.6,438.8 L226.8,433.3 L229.5,428.8 L230.4,424.2 L235.0,422.3 L238.7,420.5 L240.5,416.8 L238.7,413.2 L237.8,411.3 L235.0,408.6 L235.0,404.0 L235.9,399.4 L238.7,396.7 L241.4,393.0 L242.3,387.5 L238.7,382.0 L235.0,378.3 L231.3,375.6 L228.6,371.0 L223.1,372.8 L222.2,376.5 L213.0,378.3 L209.3,378.3 L207.5,371.0 L205.7,367.3Z" fill="#fdbe85" stroke="#707070" stroke-width="0.45" stroke-opacity="0.9"/>
<path d="M235.9,399.4 L240.5,400.3 L245.1,404.0 L246.0,407.7 L243.2,410.4 L238.7,411.0 L235.9,408.6 L235.0,404.0Z" fill="#a63603" stroke="#707070" stroke-width="0.45" stroke-opacity="0.9"/>
<path d="M320.8,152.4 L323.5,151.0 L326.1,150.7 L329.0,151.5 L332.5,151.3 L335.5,150.4 L337.8,150.2 L338.8,153.4 L335.7,155.5 L332.5,156.3 L329.3,157.0 L326.5,156.8 L324.0,156.2 L321.5,154.5Z" fill="#fdbe85" stroke="#707070" stroke-width="0.45" stroke-opacity="0.9"/>
<path d="M354.2,169.0 L355.8,170.4 L357.1,173.3 L356.2,175.8 L359.2,179.2 L360.8,180.8 L364.2,183.3 L365.8,184.6 L365.0,186.7 L362.5,187.9 L360.0,188.3 L356.7,188.3 L352.5,190.0 L351.7,188.8 L354.2,186.7 L354.6,185.0 L353.3,183.3 L353.8,180.8 L355.0,179.2 L353.3,176.7 L352.5,174.2 L352.1,171.7 L352.5,170.0Z" fill="#fdbe85" stroke="#707070" stroke-width="0.45" stroke-opacity="0.9"/>
<path d="M343.8,185.4 L345.0,181.7 L345.0,179.2 L347.5,177.5 L350.0,177.5 L351.2,179.2 L350.8,182.5 L350.0,184.6 L346.7,185.8Z" fill="#fdbe85" stroke="#707070" stroke-width="0.45" stroke-opacity="0.9"/>
<path d="M354.2,193.8 L359.6,192.5 L360.0,191.2 L365.0,189.6 L367.5,187.5 L370.4,186.7 L372.5,187.9 L374.2,190.0 L376.7,191.7 L377.9,193.3 L376.7,196.7 L375.8,198.8 L377.1,201.2 L378.3,205.0 L377.9,206.7 L375.0,207.5 L371.7,207.1 L369.2,208.3 L367.5,208.8 L363.3,207.1 L360.0,206.7 L360.4,203.3 L360.8,198.3 L358.3,195.8 L354.6,195.0Z" fill="#fd8d3c" stroke="#707070" stroke-width="0.45" stroke-opacity="0.9"/>
<path d="M405.8,195.0 L410.0,194.3 L414.2,194.6 L417.5,194.2 L420.0,195.0 L422.5,198.3 L423.3,200.0 L422.5,203.3 L421.7,205.4 L418.3,205.8 L414.2,205.8 L410.8,205.0 L408.3,202.5 L406.7,199.2Z" fill="#fdbe85" stroke="#707070" stroke-width="0.45" stroke-opacity="0.9"/>
<path d="M410.8,205.0 L414.2,205.8 L418.3,205.8 L421.7,205.4 L422.5,206.7 L421.7,210.0 L420.0,211.7 L415.8,212.1 L412.5,211.7 L411.2,208.3Z" fill="#feedde" stroke="#707070" stroke-width="0.45" stroke-opacity="0.9"/>
<path d="M408.3,210.4 L411.7,210.0 L414.2,211.7 L416.7,212.5 L418.3,214.2 L415.8,215.0 L413.3,216.7 L414.2,220.0 L415.0,223.3 L411.7,225.0 L410.0,221.7 L408.3,217.5 L407.5,214.2Z" fill="#feedde" stroke="#707070" stroke-width="0.45" stroke-opacity="0.9"/>
<path d="M540.5,192.6 L548.0,188.8 L555.5,187.9 L559.3,186.0 L565.0,186.7 L570.0,189.2 L576.7,190.0 L583.3,191.7 L590.0,190.8 L595.8,190.0 L597.5,192.5 L601.7,195.8 L607.5,197.5 L601.7,200.0 L597.5,200.8 L595.8,204.2 L593.3,206.7 L588.3,209.2 L584.2,210.8 L580.0,210.0 L573.3,209.2 L566.7,207.5 L560.0,205.8 L550.0,202.0 L543.0,198.0Z" fill="#e6550d" stroke="#707070" stroke-width="0.45" stroke-opacity="0.9"/>
<path d="M400.0,394.0 L407.0,386.0 L408.0,392.0 L414.0,388.0 L420.0,386.0 L422.0,382.0 L428.0,379.0 L433.0,379.0 L435.0,386.0 L436.0,391.0 L432.0,395.0 L428.0,399.0 L424.0,404.0 L418.0,408.0 L410.0,410.0 L404.0,409.0 L402.0,402.0Z" fill="#feedde" stroke="#707070" stroke-width="0.45" stroke-opacity="0.9"/>
<path d="M614.1,408.8 L617.3,402.3 L617.3,393.7 L617.3,387.2 L620.6,377.4 L628.2,374.2 L634.7,372.0 L640.1,368.8 L643.3,364.4 L649.8,359.0 L655.3,357.9 L658.5,359.0 L661.8,354.7 L665.0,350.3 L669.3,351.4 L675.8,352.5 L673.7,356.8 L678.0,362.3 L681.3,365.5 L684.5,363.3 L686.7,356.8 L688.8,350.3 L689.9,348.2 L692.1,355.8 L694.3,359.0 L695.3,365.5 L697.5,372.0 L701.8,376.3 L704.0,380.7 L706.2,385.0 L705.1,391.5 L702.9,395.8 L699.7,402.3 L695.3,408.8 L691.0,415.3 L686.7,418.6 L680.2,419.7 L673.7,420.8 L669.3,419.7 L665.0,415.3 L663.9,412.1 L662.8,408.8 L658.5,408.8 L657.4,404.5 L652.0,403.0 L643.3,403.4 L634.7,405.6 L628.2,408.8 L621.7,411.0 L616.3,411.0Z" fill="#fd8d3c" stroke="#707070" stroke-width="0.45" stroke-opacity="0.9"/>
<path d="M667.2,428.3 L671.5,426.2 L676.9,426.6 L674.8,430.5 L669.3,433.8 L667.2,432.7Z" fill="#fd8d3c" stroke="#707070" stroke-width="0.45" stroke-opacity="0.9"/>
<path d="M384.5,166.5 L384.1,163.5 L384.9,157.5 L386.8,155.3 L389.8,150.0 L392.8,147.0 L396.5,144.8 L400.3,144.8 L402.5,146.3 L403.3,150.8 L401.8,152.3 L400.3,154.5 L398.0,157.5 L395.8,160.5 L395.0,163.5 L397.3,165.8 L396.1,168.0 L394.3,170.3 L393.5,173.3 L391.3,175.5 L389.0,176.6 L386.8,176.3 L385.3,173.3 L383.8,170.3 L383.8,168.0Z" fill="#fd8d3c" stroke="#707070" stroke-width="0.45" stroke-opacity="0.9"/>
<path d="M402.5,146.3 L404.0,145.5 L406.3,143.3 L408.5,142.5 L410.8,143.3 L413.0,146.3 L414.5,150.0 L416.0,153.0 L417.5,155.3 L419.0,159.0 L417.5,161.3 L414.5,162.8 L411.5,164.3 L408.5,165.0 L405.5,165.4 L402.5,164.3 L401.4,161.3 L401.8,158.3 L403.3,156.0 L405.5,154.5 L407.0,153.0 L404.8,151.9 L403.3,150.8Z" fill="#fd8d3c" stroke="#707070" stroke-width="0.45" stroke-opacity="0.9"/>
<path d="M343.5,208.1 L346.4,206.6 L351.3,206.3 L355.5,207.0 L359.4,207.4 L363.3,208.4 L366.8,209.1 L368.9,209.5 L369.3,210.9 L367.5,212.3 L364.7,214.1 L363.3,216.2 L362.6,219.0 L361.2,221.5 L359.1,223.2 L355.5,223.9 L352.0,224.6 L350.6,226.1 L349.2,224.6 L347.1,223.9 L344.2,223.6 L343.5,221.1 L342.8,219.0 L342.8,216.2 L343.9,213.4 L343.5,210.5Z" fill="#fdbe85" stroke="#707070" stroke-width="0.45" stroke-opacity="0.9"/>
<path d="M380.9,208.8 L382.4,208.1 L383.1,209.8 L382.4,211.9 L381.3,211.6Z" fill="#fd8d3c" stroke="#707070" stroke-width="0.45" stroke-opacity="0.9"/>
<path d="M380.2,213.4 L383.1,213.0 L383.8,216.2 L383.1,218.3 L380.9,218.3 L380.2,216.2Z" fill="#feedde" stroke="#707070" stroke-width="0.45" stroke-opacity="0.9"/>
<path d="M420.0,212.5 L425.0,211.7 L430.0,210.8 L436.7,211.7 L443.3,210.0 L448.3,207.5 L453.3,208.3 L458.3,210.8 L460.8,215.8 L459.2,218.3 L460.0,220.8 L453.3,220.8 L448.3,221.7 L443.3,223.3 L440.0,225.0 L436.7,224.7 L431.7,225.0 L426.7,224.2 L421.7,223.3 L419.5,221.7 L419.0,218.0 L417.5,215.0 L418.5,213.5Z" fill="#feedde" stroke="#707070" stroke-width="0.45" stroke-opacity="0.9"/>
<path d="M447.5,207.5 L451.7,207.5 L455.8,209.2 L460.0,210.8 L462.0,212.0 L463.0,214.2 L461.3,216.7 L459.2,217.5 L457.5,215.8 L455.0,214.2 L451.7,211.7 L448.3,210.0Z" fill="#feedde" stroke="#707070" stroke-width="0.45" stroke-opacity="0.9"/>
<path d="M440.8,239.2 L445.0,237.0 L450.0,237.5 L456.7,240.0 L463.3,241.7 L466.7,242.5 L470.0,245.0 L473.3,248.3 L475.8,251.7 L477.5,250.8 L479.2,254.2 L478.3,256.7 L481.7,257.5 L485.0,256.7 L487.5,254.2 L488.7,252.0 L489.7,255.0 L493.3,258.3 L496.7,261.7 L497.5,264.2 L495.0,267.5 L491.7,270.0 L488.3,273.3 L485.0,275.8 L482.5,274.2 L481.7,270.8 L476.7,270.0 L470.0,270.8 L465.0,272.5 L460.8,274.7 L459.2,273.3 L456.7,270.0 L453.3,265.0 L450.0,258.3 L446.7,251.7 L444.2,246.7 L441.7,241.7Z" fill="#feedde" stroke="#707070" stroke-width="0.45" stroke-opacity="0.9"/>
<path d="M439.2,229.2 L441.3,230.0 L442.0,235.0 L441.7,240.8 L440.7,240.0 L439.7,235.0Z" fill="#fdbe85" stroke="#707070" stroke-width="0.45" stroke-opacity="0.9"/>
<path d="M457.5,189.7 L460.6,186.6 L466.7,185.9 L474.4,187.4 L482.0,186.6 L484.3,184.4 L482.8,181.3 L488.1,179.0 L495.8,176.7 L503.4,179.0 L511.1,180.1 L515.7,182.8 L521.8,185.9 L529.4,188.2 L535.5,190.5 L537.8,192.8 L534.0,195.1 L532.5,198.1 L530.2,201.2 L530.9,207.3 L529.4,210.4 L523.3,212.7 L518.7,213.4 L514.9,214.9 L511.1,216.5 L508.8,219.5 L506.5,220.3 L503.4,216.5 L498.8,213.4 L494.2,208.8 L489.7,205.8 L483.5,202.7 L480.5,204.2 L480.5,208.8 L479.0,211.2 L477.5,211.2 L473.8,210.5 L472.2,207.5 L468.5,205.2 L469.2,203.0 L472.2,200.8 L471.5,198.5 L467.8,197.4 L464.8,198.1 L461.8,197.8 L458.0,194.0Z" fill="#fdbe85" stroke="#707070" stroke-width="0.45" stroke-opacity="0.9"/>
<path d="M507.2,215.0 L511.1,213.4 L515.7,215.0 L521.8,218.0 L523.3,221.1 L517.2,222.6 L511.1,221.1 L508.0,219.5Z" fill="#feedde" stroke="#707070" stroke-width="0.45" stroke-opacity="0.9"/>
<path d="M224.9,122.7 L229.5,121.2 L235.7,119.7 L247.9,118.9 L260.1,118.1 L270.8,117.8 L277.7,118.1 L269.3,120.4 L260.1,121.9 L254.0,123.5 L247.9,125.0 L241.8,126.5 L237.2,128.8 L232.6,128.1 L228.0,126.5 L224.9,124.2Z" fill="#fdbe85" stroke="#707070" stroke-width="0.45" stroke-opacity="0.9"/>
<path d="M217.3,138.0 L223.4,135.7 L231.1,134.9 L237.2,136.5 L241.8,138.8 L246.3,141.1 L249.4,144.1 L252.5,147.2 L255.5,149.5 L250.9,151.0 L247.9,152.5 L246.3,155.6 L244.8,157.9 L240.2,157.9 L235.7,156.3 L231.1,154.8 L226.5,154.1 L224.9,152.5 L229.5,151.8 L233.3,150.2 L235.7,147.2 L232.6,144.9 L228.0,144.9 L223.4,145.7 L220.3,144.1 L218.8,141.8Z" fill="#fdbe85" stroke="#707070" stroke-width="0.45" stroke-opacity="0.9"/>
<path d="M171.2,262.7 L173.5,260.8 L177.3,259.6 L181.1,260.4 L184.8,261.8 L187.7,263.2 L190.5,265.5 L194.7,267.1 L192.3,267.9 L187.7,267.9 L185.8,265.5 L182.0,263.2 L178.2,261.8 L174.5,262.2 L171.7,263.6Z" fill="#fd8d3c" stroke="#707070" stroke-width="0.45" stroke-opacity="0.9"/>
<path d="M210.2,272.1 L214.0,272.1 L213.5,273.1 L210.2,273.1Z" fill="#fdbe85" stroke="#707070" stroke-width="0.45" stroke-opacity="0.9"/>
<path d="M221.1,292.4 L223.4,292.2 L222.9,293.8 L221.3,293.8Z" fill="#fdbe85" stroke="#707070" stroke-width="0.45" stroke-opacity="0.9"/>
<path d="M152.8,274.7 L156.6,274.7 L159.4,273.5 L159.9,276.4 L160.3,278.2 L158.5,280.1 L156.6,282.9 L152.8,281.1 L151.4,278.2Z" fill="#feedde" stroke="#707070" stroke-width="0.45" stroke-opacity="0.9"/>
<path d="M164.1,284.8 L168.8,282.5 L172.6,281.1 L172.1,285.8 L171.2,290.5 L168.8,290.5 L166.0,288.6Z" fill="#fdbe85" stroke="#707070" stroke-width="0.45" stroke-opacity="0.9"/>
<path d="M166.9,290.5 L171.2,290.9 L172.6,294.2 L171.7,297.1 L168.8,295.2 L166.9,293.3Z" fill="#fdbe85" stroke="#707070" stroke-width="0.45" stroke-opacity="0.9"/>
<path d="M655.9,202.1 L658.8,203.8 L662.2,204.6 L664.7,204.2 L666.8,207.1 L664.7,208.3 L663.0,210.4 L661.3,209.6 L660.1,211.2 L658.0,209.6 L656.3,207.5Z" fill="#fd8d3c" stroke="#707070" stroke-width="0.45" stroke-opacity="0.9"/>
<path d="M659.7,212.9 L661.3,212.5 L663.8,214.6 L665.5,218.3 L665.9,221.7 L667.2,224.2 L668.0,226.7 L666.3,228.3 L663.0,229.2 L660.5,230.8 L658.0,231.7 L655.5,230.4 L653.0,232.1 L652.2,234.2 L653.0,236.7 L651.3,238.8 L649.7,237.1 L647.2,234.2 L646.3,233.3 L648.8,231.7 L650.5,228.3 L653.0,227.1 L656.3,226.7 L658.0,223.8 L661.3,221.7 L662.2,218.3 L661.3,215.8 L660.1,214.2Z" fill="#fd8d3c" stroke="#707070" stroke-width="0.45" stroke-opacity="0.9"/>
<path d="M634.7,220.8 L637.2,220.0 L640.5,221.7 L642.6,224.2 L643.4,227.9 L641.3,229.2 L638.8,230.0 L637.2,228.3 L635.9,225.0 L635.1,223.3Z" fill="#e6550d" stroke="#707070" stroke-width="0.45" stroke-opacity="0.9"/>
<path d="M185.2,298.9 L186.9,296.1 L189.1,293.3 L191.2,291.2 L194.0,290.5 L196.8,289.1 L198.9,288.0 L199.7,288.7 L196.8,291.9 L195.4,295.4 L196.8,298.9 L198.2,301.8 L201.8,303.2 L206.0,304.6 L207.4,306.0 L207.1,310.2 L208.1,313.8 L208.8,315.9 L207.7,308.2 L206.8,315.3 L202.3,316.2 L201.5,320.6 L200.6,325.9 L197.9,326.8 L194.4,324.1 L189.1,322.4 L186.5,319.7 L181.2,317.1 L179.4,313.5 L177.8,321.5 L179.2,318.0 L181.3,315.2 L183.4,312.4 L184.8,308.1 L184.1,303.2Z" fill="#fdbe85" stroke="#707070" stroke-width="0.45" stroke-opacity="0.9"/>
<path d="M223.7,298.9 L225.8,298.2 L227.9,300.4 L230.0,303.2 L229.3,308.8 L230.0,312.4 L227.9,315.9 L225.8,315.2 L225.1,311.6 L225.1,308.8 L222.9,306.0 L222.2,303.2Z" fill="#a63603" stroke="#707070" stroke-width="0.45" stroke-opacity="0.9"/>
<path d="M171.4,295.4 L174.2,296.1 L177.1,295.4 L180.6,295.1 L184.1,296.1 L185.2,298.9 L183.8,299.6 L182.0,297.5 L179.2,297.5 L177.1,300.4 L174.9,298.9 L172.8,298.2Z" fill="#feedde" stroke="#707070" stroke-width="0.45" stroke-opacity="0.9"/>
<path d="M57.0,157.2 L59.5,157.0 L61.5,157.4 L60.0,158.2 L58.0,158.0Z" fill="#fd8d3c" stroke="#707070" stroke-width="0.45" stroke-opacity="0.9"/>
<path d="M127.9,143.2 L104.1,164.4 L107.8,166.0 L112.5,166.5 L113.6,170.2 L114.1,174.5 L113.1,177.1 L110.4,176.6 L110.9,172.4 L109.4,169.2 L105.6,167.6 L103.5,165.5 L100.0,165.1 L97.0,164.0 L94.0,162.5 L89.5,164.0 L85.0,165.5 L81.2,166.2 L77.5,167.0 L74.5,168.1 L70.0,169.6 L64.8,171.5 L58.8,173.8 L51.2,176.4 L44.1,178.6 L44.1,178.2 L47.5,176.8 L53.5,173.8 L58.8,170.8 L62.5,168.5 L64.8,167.4 L62.5,166.2 L60.2,164.8 L61.0,162.5 L64.0,160.2 L67.8,158.8 L71.5,157.6 L76.0,156.1 L79.0,154.6 L73.8,155.0 L70.4,154.2 L70.8,152.4 L75.2,151.6 L79.8,151.2 L82.8,150.1 L81.6,147.5 L82.8,145.6 L88.0,144.1 L94.0,142.2 L100.0,140.8 L107.8,140.1 L114.1,141.1 L121.5,142.2Z" fill="#fd8d3c" stroke="#707070" stroke-width="0.45" stroke-opacity="0.9"/>
<path d="M70.0,171.5 L75.2,170.0 L76.8,171.1 L71.5,173.0Z" fill="#fd8d3c" stroke="#707070" stroke-width="0.45" stroke-opacity="0.9"/>
<path d="M106.5,189.1 L108.8,188.2 L111.5,190.5 L113.3,192.3 L113.8,195.1 L112.4,194.2 L109.7,191.9 L106.9,190.5Z" fill="#fdbe85" stroke="#707070" stroke-width="0.45" stroke-opacity="0.9"/>
<path d="M114.2,192.8 L171.6,192.4 L174.1,193.2 L180.6,194.6 L185.6,195.7 L189.7,198.2 L191.4,201.5 L190.5,206.4 L188.9,210.5 L193.8,209.7 L200.4,206.4 L207.0,204.8 L213.6,203.1 L218.5,199.0 L223.5,197.4 L224.1,200.5 L221.2,202.8 L217.7,204.6 L214.8,206.3 L215.9,211.0 L211.8,211.6 L208.3,212.8 L206.0,214.5 L203.7,216.8 L201.3,218.0 L199.6,220.9 L199.0,223.8 L197.8,227.3 L194.3,229.7 L189.7,233.2 L186.2,235.5 L183.8,239.0 L183.3,243.7 L183.8,249.5 L182.7,253.6 L180.9,254.2 L179.2,250.7 L178.0,246.0 L176.8,242.5 L174.5,241.3 L171.0,241.3 L168.0,241.0 L165.3,241.3 L164.0,243.0 L162.0,244.0 L160.0,243.0 L157.3,242.3 L154.7,243.0 L152.7,244.0 L150.0,245.0 L147.3,247.0 L146.0,249.0 L144.7,252.3 L142.7,251.7 L140.7,248.3 L139.3,245.0 L138.0,243.0 L135.3,242.7 L133.3,244.3 L131.3,241.7 L130.0,239.0 L127.3,237.3 L124.0,237.7 L120.0,238.3 L114.8,236.4 L109.8,235.2 L105.7,234.4 L104.2,232.7 L101.4,229.0 L99.6,224.4 L98.7,219.8 L99.1,216.2 L100.5,212.5 L103.2,208.8 L106.0,205.2 L108.8,201.5 L110.6,197.8 L112.9,196.9 L111.5,194.2Z" fill="#fd8d3c" stroke="#707070" stroke-width="0.45" stroke-opacity="0.9"/>
<path d="M378.8,173.3 L379.6,171.7 L381.7,171.2 L382.5,172.5 L382.1,175.0 L380.8,177.5 L379.6,178.8 L378.8,176.7Z" fill="#fdbe85" stroke="#707070" stroke-width="0.45" stroke-opacity="0.9"/>
<path d="M384.6,175.4 L386.7,175.8 L386.2,177.5 L384.6,177.1Z" fill="#fdbe85" stroke="#707070" stroke-width="0.45" stroke-opacity="0.9"/>
<path d="M372.1,183.3 L373.8,181.7 L376.2,181.2 L377.1,183.8 L376.7,185.8 L375.0,187.1 L373.3,186.7 L371.7,185.0Z" fill="#fdbe85" stroke="#707070" stroke-width="0.45" stroke-opacity="0.9"/>
<path d="M369.2,187.5 L371.7,186.7 L374.6,187.1 L375.8,188.3 L375.4,190.4 L373.3,190.0 L370.8,189.2Z" fill="#fd8d3c" stroke="#707070" stroke-width="0.45" stroke-opacity="0.9"/>
<path d="M377.1,180.8 L380.0,178.8 L383.3,178.3 L386.7,179.2 L390.0,180.0 L391.2,181.7 L391.7,185.0 L390.8,187.5 L388.3,188.8 L390.0,190.8 L391.2,193.3 L390.0,195.0 L387.5,195.8 L385.0,196.7 L381.7,196.7 L378.3,197.1 L376.7,195.0 L376.7,191.7 L375.8,188.3 L376.7,185.8 L377.1,183.8Z" fill="#fdbe85" stroke="#707070" stroke-width="0.45" stroke-opacity="0.9"/>
<path d="M391.2,180.8 L395.0,179.2 L399.2,178.5 L404.2,178.8 L407.9,179.6 L409.2,183.3 L410.4,187.5 L410.0,190.0 L407.5,191.7 L404.2,192.1 L400.8,191.2 L397.5,189.6 L395.0,188.3 L392.5,187.5 L391.7,185.0Z" fill="#fd8d3c" stroke="#707070" stroke-width="0.45" stroke-opacity="0.9"/>
<path d="M388.3,188.8 L391.7,187.5 L395.0,188.3 L397.5,189.6 L399.2,191.7 L396.7,192.9 L393.3,193.3 L391.2,193.3 L390.0,190.8Z" fill="#fdbe85" stroke="#707070" stroke-width="0.45" stroke-opacity="0.9"/>
<path d="M399.2,191.7 L400.8,191.2 L404.2,192.1 L407.5,192.1 L407.9,193.3 L405.0,194.2 L401.7,195.0 L398.3,194.6 L396.7,192.9Z" fill="#feedde" stroke="#707070" stroke-width="0.45" stroke-opacity="0.9"/>
<path d="M385.0,196.7 L387.5,195.8 L390.0,195.0 L393.3,193.3 L396.7,192.9 L398.3,194.6 L397.1,196.7 L394.2,197.9 L390.8,198.3 L387.5,197.9Z" fill="#fdbe85" stroke="#707070" stroke-width="0.45" stroke-opacity="0.9"/>
<path d="M378.3,197.1 L381.7,196.7 L385.0,197.1 L384.2,199.2 L380.8,200.0 L377.9,199.2Z" fill="#fdbe85" stroke="#707070" stroke-width="0.45" stroke-opacity="0.9"/>
<path d="M397.1,196.7 L398.3,194.6 L401.7,195.0 L405.0,194.2 L407.9,195.0 L406.7,197.5 L403.3,199.2 L400.0,200.0 L397.5,198.8Z" fill="#fd8d3c" stroke="#707070" stroke-width="0.45" stroke-opacity="0.9"/>
<path d="M390.8,198.3 L394.2,197.9 L397.1,196.9 L397.5,198.8 L395.8,199.6 L393.3,200.8 L391.2,200.4Z" fill="#fd8d3c" stroke="#707070" stroke-width="0.45" stroke-opacity="0.9"/>
<path d="M393.3,200.8 L395.8,199.6 L397.5,198.8 L400.0,200.0 L402.5,201.2 L399.2,201.7 L395.8,202.1 L396.7,205.0 L400.0,208.3 L398.3,208.3 L395.0,205.0 L392.9,202.5Z" fill="#fd8d3c" stroke="#707070" stroke-width="0.45" stroke-opacity="0.9"/>
<path d="M402.5,201.2 L406.7,199.2 L409.2,201.7 L410.0,206.7 L407.5,208.3 L405.0,206.7 L403.3,203.3Z" fill="#fdbe85" stroke="#707070" stroke-width="0.45" stroke-opacity="0.9"/>
<path d="M407.1,167.5 L410.8,166.7 L414.2,167.1 L414.6,169.6 L413.3,170.8 L410.0,170.8 L407.5,170.4Z" fill="#fd8d3c" stroke="#707070" stroke-width="0.45" stroke-opacity="0.9"/>
<path d="M403.8,171.7 L406.7,171.2 L410.0,170.8 L413.3,170.8 L415.4,172.1 L415.8,174.6 L412.5,175.0 L409.2,174.8 L405.8,174.6 L403.8,174.6Z" fill="#fd8d3c" stroke="#707070" stroke-width="0.45" stroke-opacity="0.9"/>
<path d="M403.8,174.6 L405.8,174.6 L409.2,174.8 L412.5,175.0 L413.8,176.7 L412.5,178.8 L410.0,180.0 L407.5,179.6 L405.0,178.8 L403.8,176.7Z" fill="#fd8d3c" stroke="#707070" stroke-width="0.45" stroke-opacity="0.9"/>
<path d="M414.0,227.8 L417.0,227.3 L420.4,227.9 L419.5,228.9 L416.0,228.9 L414.2,228.6Z" fill="#feedde" stroke="#707070" stroke-width="0.45" stroke-opacity="0.9"/>
<path d="M433.0,228.6 L435.0,228.0 L436.0,228.6 L435.0,229.6 L433.5,229.5Z" fill="#feedde" stroke="#707070" stroke-width="0.45" stroke-opacity="0.9"/>
<path d="M159.2,138.5 L162.5,136.6 L167.2,133.8 L173.8,133.3 L178.5,133.8 L177.6,136.1 L173.8,137.1 L169.1,138.5 L164.4,139.9 L160.7,139.9Z" fill="#fdbe85" stroke="#707070" stroke-width="0.45" stroke-opacity="0.9"/>
<path d="M169.1,137.5 L173.8,137.1 L179.5,136.6 L185.1,136.1 L188.9,135.7 L192.7,135.2 L196.4,135.2 L194.5,137.1 L192.7,139.4 L194.5,142.2 L190.8,143.2 L186.1,144.1 L181.3,144.6 L176.7,144.1 L171.9,144.1 L170.1,142.2 L171.0,140.3Z" fill="#fdbe85" stroke="#707070" stroke-width="0.45" stroke-opacity="0.9"/>
<path d="M175.2,129.5 L179.5,128.1 L185.1,127.2 L188.9,126.7 L187.9,128.6 L183.2,129.5 L178.5,130.2Z" fill="#fdbe85" stroke="#707070" stroke-width="0.45" stroke-opacity="0.9"/>
<path d="M180.4,131.4 L186.1,131.1 L192.7,130.5 L197.3,129.3 L200.7,130.5 L198.3,131.9 L192.7,132.3 L186.1,132.8 L181.3,132.4Z" fill="#fdbe85" stroke="#707070" stroke-width="0.45" stroke-opacity="0.9"/>
<path d="M194.1,126.2 L198.3,125.1 L201.6,124.8 L200.2,126.2 L195.5,127.0Z" fill="#fdbe85" stroke="#707070" stroke-width="0.45" stroke-opacity="0.9"/>
<path d="M208.2,124.3 L211.5,123.4 L215.2,124.3 L214.8,126.2 L210.5,125.8Z" fill="#fdbe85" stroke="#707070" stroke-width="0.45" stroke-opacity="0.9"/>
<path d="M217.6,124.8 L220.9,124.3 L222.8,125.8 L219.9,126.7Z" fill="#fdbe85" stroke="#707070" stroke-width="0.45" stroke-opacity="0.9"/>
<path d="M224.7,122.0 L230.3,120.6 L235.0,121.1 L235.0,125.3 L230.3,125.8 L226.5,124.3Z" fill="#fdbe85" stroke="#707070" stroke-width="0.45" stroke-opacity="0.9"/>
<path d="M205.3,130.0 L209.6,129.1 L213.3,128.6 L211.5,130.9 L207.7,131.9Z" fill="#fdbe85" stroke="#707070" stroke-width="0.45" stroke-opacity="0.9"/>
<path d="M216.2,128.6 L220.9,128.1 L225.6,129.1 L235.0,130.0 L235.0,132.3 L226.5,132.3 L220.9,131.9 L217.1,130.5Z" fill="#fdbe85" stroke="#707070" stroke-width="0.45" stroke-opacity="0.9"/>
<path d="M198.3,136.1 L202.1,134.7 L207.7,134.2 L211.5,134.2 L210.5,136.6 L207.7,137.5 L203.9,138.9 L200.2,138.5Z" fill="#fdbe85" stroke="#707070" stroke-width="0.45" stroke-opacity="0.9"/>
<path d="M585.0,270.0 L587.0,267.0 L591.0,268.0 L593.0,271.0 L596.0,273.0 L600.0,272.0 L603.0,275.0 L604.0,280.0 L601.0,282.0 L598.0,283.0 L597.0,287.0 L594.0,286.0 L592.0,285.0 L591.0,288.0 L589.6,293.0 L590.0,298.0 L593.0,301.0 L596.0,303.0 L595.0,304.0 L591.6,302.0 L589.0,299.0 L588.6,294.0 L589.0,289.0 L588.0,284.0 L586.0,279.0 L585.6,274.0Z" fill="#fdbe85" stroke="#707070" stroke-width="0.45" stroke-opacity="0.9"/>
<path d="M593.0,303.0 L597.0,304.0 L600.0,307.0 L602.0,312.0 L603.6,316.4 L601.0,317.0 L598.0,314.0 L595.0,310.0 L593.0,306.0Z" fill="#feedde" stroke="#707070" stroke-width="0.45" stroke-opacity="0.9"/>
<path d="M615.6,316.4 L619.0,314.0 L623.0,312.0 L627.0,310.0 L629.0,308.0 L631.0,304.0 L633.0,302.0 L636.0,303.6 L638.0,306.4 L635.0,307.6 L633.0,309.0 L632.0,312.0 L629.0,314.0 L625.0,315.6 L621.0,317.6 L617.0,318.4Z" fill="#feedde" stroke="#707070" stroke-width="0.45" stroke-opacity="0.9"/>
<path d="M376.7,199.2 L377.9,199.2 L380.8,200.0 L384.2,199.2 L385.0,196.9 L387.5,197.9 L390.8,198.3 L391.2,200.4 L390.0,201.7 L389.7,202.5 L391.7,204.0 L394.3,206.7 L397.0,209.3 L399.7,211.3 L401.7,213.3 L402.0,215.3 L400.3,215.0 L399.3,216.7 L399.0,218.0 L397.7,219.3 L397.0,218.0 L396.7,215.3 L395.0,213.3 L392.3,211.3 L389.0,209.3 L386.3,207.3 L383.8,205.8 L380.5,203.8 L378.1,202.5 L377.4,201.4Z" fill="#feedde" stroke="#707070" stroke-width="0.45" stroke-opacity="0.9"/>
<path d="M389.7,220.7 L392.3,220.3 L395.0,220.0 L395.7,221.7 L394.3,223.3 L391.7,222.7 L390.0,222.0Z" fill="#feedde" stroke="#707070" stroke-width="0.45" stroke-opacity="0.9"/>
<path d="M210.0,154.0 L214.0,153.0 L218.0,153.5 L220.0,156.0 L219.0,159.0 L216.0,160.0 L213.0,159.0 L210.5,157.0Z" fill="#fdbe85" stroke="#707070" stroke-width="0.45" stroke-opacity="0.9"/>
<path d="M479.0,202.0 L483.5,201.2 L489.7,204.2 L494.2,205.8 L500.4,207.3 L505.0,210.4 L508.0,211.9 L509.5,210.4 L515.7,208.1 L523.3,207.3 L530.2,207.3" fill="none" stroke="#707070" stroke-width="0.45" stroke-opacity="0.9"/>
<path d="M509.5,210.4 L511.0,213.0 L511.1,213.4" fill="none" stroke="#707070" stroke-width="0.45" stroke-opacity="0.9"/>
<path d="M207.5,378.3 L209.3,385.7 L207.5,396.7 L209.3,407.7 L210.2,420.5 L212.1,429.7 L214.8,437.0 L215.8,446.2 L222.2,453.5 L225.8,456.2" fill="none" stroke="#707070" stroke-width="0.45" stroke-opacity="0.9"/>
<path d="M231.3,375.6 L235.0,378.3 L238.7,382.0 L241.4,385.7" fill="none" stroke="#707070" stroke-width="0.45" stroke-opacity="0.9"/>
<path d="M223.1,378.3 L227.7,382.0 L233.2,385.7 L234.1,389.3 L236.8,391.2 L240.5,390.2 L241.4,385.7" fill="none" stroke="#707070" stroke-width="0.45" stroke-opacity="0.9"/>
<path d="M241.4,385.7 L242.3,387.5 L241.4,393.0 L238.7,396.7 L235.9,399.4" fill="none" stroke="#707070" stroke-width="0.45" stroke-opacity="0.9"/>
<path d="M206.8,306.5 L207.7,308.2 L206.8,315.3 L202.3,316.2 L201.5,320.6 L200.6,325.9" fill="none" stroke="#707070" stroke-width="0.45" stroke-opacity="0.9"/>
<path d="M181.2,317.1 L186.5,319.7 L189.1,322.4" fill="none" stroke="#707070" stroke-width="0.45" stroke-opacity="0.9"/>
<path d="M417.5,194.5 L419.5,196.5 L421.0,199.0 L423.0,201.0" fill="none" stroke="#707070" stroke-width="0.45" stroke-opacity="0.9"/>
<path d="M344.6,209.8 L349.2,210.5 L348.5,213.4 L347.8,216.2 L347.1,219.7 L347.8,223.2" fill="none" stroke="#707070" stroke-width="0.45" stroke-opacity="0.9"/>
<path d="M480.8,260.0 L486.7,267.5 L488.3,270.0 L483.3,275.8" fill="none" stroke="#707070" stroke-width="0.45" stroke-opacity="0.9"/>
<path d="M486.7,257.5 L488.3,262.5 L486.7,267.5" fill="none" stroke="#707070" stroke-width="0.45" stroke-opacity="0.9"/>
<path d="M424.2,396.5 L425.8,395.6 L427.0,396.6 L426.3,398.6 L424.6,398.8 L423.8,397.8Z" fill="url(#hp)" stroke="#707070" stroke-width="0.45" stroke-opacity="0.9"/>
<path d="M431.6,388.4 L433.0,387.6 L434.2,388.6 L433.8,390.6 L432.2,391.0 L431.4,389.8Z" fill="url(#hp)" stroke="#707070" stroke-width="0.45" stroke-opacity="0.9"/>
<rect x="245" y="501.5" width="47" height="10.8" fill="url(#hp)" stroke="#b4b4b4" stroke-width="0.6"/>
<line x1="268.5" y1="497.5" x2="268.5" y2="501.5" stroke="#bbb" stroke-width="0.6"/>
<rect x="312.5" y="501.5" width="58.5" height="10.8" fill="#feedde" stroke="#a8a8a8" stroke-width="0.6"/>
<rect x="371" y="501.5" width="58.5" height="10.8" fill="#fdbe85" stroke="#a8a8a8" stroke-width="0.6"/>
<rect x="429.5" y="501.5" width="58.5" height="10.8" fill="#fd8d3c" stroke="#a8a8a8" stroke-width="0.6"/>
<rect x="488" y="501.5" width="58.5" height="10.8" fill="#e6550d" stroke="#a8a8a8" stroke-width="0.6"/>
<path d="M546.5,501.5 H600 L605,506.9 L600,512.3 H546.5 Z" fill="#a63603" stroke="#a8a8a8" stroke-width="0.6"/><g stroke="#8a8a8a" stroke-width="0.7"><line x1="371" y1="501.5" x2="371" y2="512.3"/><line x1="429.5" y1="501.5" x2="429.5" y2="512.3"/><line x1="488" y1="501.5" x2="488" y2="512.3"/><line x1="546.5" y1="501.5" x2="546.5" y2="512.3"/></g>
<g stroke="#999" stroke-width="0.6"><line x1="312.5" y1="497" x2="312.5" y2="501.5"/><line x1="371" y1="497" x2="371" y2="501.5"/><line x1="429.5" y1="497" x2="429.5" y2="501.5"/><line x1="488" y1="497" x2="488" y2="501.5"/><line x1="546.5" y1="497" x2="546.5" y2="501.5"/></g>
<g font-family="Liberation Sans, sans-serif" font-size="13.4" letter-spacing="0.15" fill="#5b5b5b" text-anchor="middle">
<text x="268.5" y="494.6">No data</text><text x="312.5" y="494.6">0</text><text x="371" y="494.6">5</text><text x="429.5" y="494.6">10</text><text x="488" y="494.6">15</text><text x="546.5" y="494.6">20</text>
</g>
</svg>
<div class="t" id="src"><b>Data source:</b> WHO Mortality Database (2025)</div>
<div class="t" id="url">OurWorldinData.org/suicide | CC BY</div>
<div class="t" id="note"><b>Note:</b> Reported rates are based on the underlying cause of death listed on death certificates. To allow for comparisons between countries and<br>over time, this metric is age-standardized.</div>
</body></html>
